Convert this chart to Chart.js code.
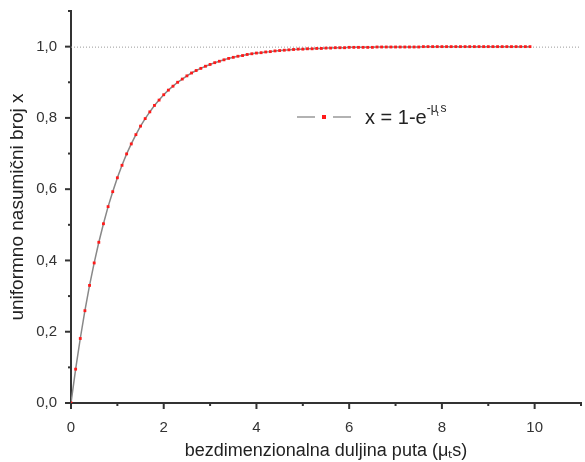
<!DOCTYPE html>
<html>
<head>
  <meta charset="utf-8">
  <script src="https://cdn.jsdelivr.net/npm/chart.js"></script>
  <style>
    html, body { margin: 0; padding: 0; background: #fff; }
    #wrap { width: 585px; height: 462px; }
  </style>
</head>
<body>
  <div id="wrap"><canvas id="chart"></canvas></div>
  <script>
    // path length (mu_t s) and random number x
    const xValues = [
      0.0, 0.1, 0.2, 0.3, 0.4, 0.5, 0.6, 0.7, 0.8, 0.9,
      1.0, 1.1, 1.2, 1.3, 1.4, 1.5, 1.6, 1.7, 1.8, 1.9,
      2.0, 2.1, 2.2, 2.3, 2.4, 2.5, 2.6, 2.7, 2.8, 2.9,
      3.0, 3.1, 3.2, 3.3, 3.4, 3.5, 3.6, 3.7, 3.8, 3.9,
      4.0, 4.1, 4.2, 4.3, 4.4, 4.5, 4.6, 4.7, 4.8, 4.9,
      5.0, 5.1, 5.2, 5.3, 5.4, 5.5, 5.6, 5.7, 5.8, 5.9,
      6.0, 6.1, 6.2, 6.3, 6.4, 6.5, 6.6, 6.7, 6.8, 6.9,
      7.0, 7.1, 7.2, 7.3, 7.4, 7.5, 7.6, 7.7, 7.8, 7.9,
      8.0, 8.1, 8.2, 8.3, 8.4, 8.5, 8.6, 8.7, 8.8, 8.9,
      9.0, 9.1, 9.2, 9.3, 9.4, 9.5, 9.6, 9.7, 9.8, 9.9
    ];
    const yValues = [
      0.000, 0.095, 0.181, 0.259, 0.330, 0.393, 0.451, 0.503, 0.551, 0.593,
      0.632, 0.667, 0.699, 0.727, 0.753, 0.777, 0.798, 0.817, 0.835, 0.850,
      0.865, 0.878, 0.889, 0.900, 0.909, 0.918, 0.926, 0.933, 0.939, 0.945,
      0.950, 0.955, 0.959, 0.963, 0.967, 0.970, 0.973, 0.975, 0.978, 0.980,
      0.982, 0.983, 0.985, 0.986, 0.988, 0.989, 0.990, 0.991, 0.992, 0.993,
      0.993, 0.994, 0.994, 0.995, 0.995, 0.996, 0.996, 0.997, 0.997, 0.997,
      0.998, 0.998, 0.998, 0.998, 0.998, 0.998, 0.999, 0.999, 0.999, 0.999,
      0.999, 0.999, 0.999, 0.999, 0.999, 0.999, 1.000, 1.000, 1.000, 1.000,
      1.000, 1.000, 1.000, 1.000, 1.000, 1.000, 1.000, 1.000, 1.000, 1.000,
      1.000, 1.000, 1.000, 1.000, 1.000, 1.000, 1.000, 1.000, 1.000, 1.000
    ];
    const xMajor = [0, 2, 4, 6, 8, 10];
    const yMajor = [0, 0.2, 0.4, 0.6, 0.8, 1.0];
    const refLine = 1.0;

    const axisColor = '#333';
    const font = 'Liberation Sans, Arial, sans-serif';

    function isMajor(list, v) {
      return list.some(m => Math.abs(m - v) < 1e-6);
    }

    // tick marks (major + minor), dotted line at 1,0 and the legend
    const extras = {
      id: 'extras',
      beforeDatasetsDraw(chart) {
        const ctx = chart.ctx;
        const a = chart.chartArea;
        const y = chart.scales.y.getPixelForValue(refLine);
        ctx.save();
        ctx.strokeStyle = '#999';
        ctx.lineWidth = 1;
        ctx.setLineDash([1, 2]);
        ctx.beginPath();
        ctx.moveTo(a.left, y + 0.5);
        ctx.lineTo(a.right, y + 0.5);
        ctx.stroke();
        ctx.restore();
      },
      afterDraw(chart) {
        const ctx = chart.ctx;
        const xs = chart.scales.x, ys = chart.scales.y;
        const a = chart.chartArea;
        ctx.save();
        ctx.strokeStyle = axisColor;
        ctx.lineWidth = 2;
        xs.ticks.forEach(t => {
          const px = xs.getPixelForValue(t.value);
          const len = isMajor(xMajor, t.value) ? 6 : 3;
          ctx.beginPath();
          ctx.moveTo(px, a.bottom);
          ctx.lineTo(px, a.bottom + len);
          ctx.stroke();
        });
        ys.ticks.forEach(t => {
          const py = ys.getPixelForValue(t.value);
          const len = isMajor(yMajor, t.value) ? 6 : 3;
          ctx.beginPath();
          ctx.moveTo(a.left, py);
          ctx.lineTo(a.left - len, py);
          ctx.stroke();
        });

        // legend
        const lx = 297, ly = 117;
        ctx.strokeStyle = '#999';
        ctx.lineWidth = 1.5;
        ctx.beginPath();
        ctx.moveTo(lx, ly); ctx.lineTo(lx + 18, ly);
        ctx.moveTo(lx + 36, ly); ctx.lineTo(lx + 54, ly);
        ctx.stroke();
        ctx.fillStyle = '#ff1a1a';
        ctx.fillRect(lx + 25, ly - 2, 4, 4);

        ctx.fillStyle = '#222';
        ctx.textBaseline = 'alphabetic';
        ctx.font = '20px ' + font;
        const main = 'x = 1-e';
        ctx.fillText(main, 365, 124);
        const w = ctx.measureText(main).width;
        ctx.font = '12px ' + font;
        ctx.fillText('-\u03bc', 365 + w, 112);
        const w2 = ctx.measureText('-\u03bc').width;
        ctx.font = '8px ' + font;
        ctx.fillText('t', 365 + w + w2 - 1, 116);
        ctx.font = '12px ' + font;
        ctx.fillText('s', 365 + w + w2 + 3, 112);
        ctx.restore();
      }
    };

    const points = xValues.map((x, i) => ({ x: x, y: yValues[i] }));

    new Chart(document.getElementById('chart'), {
      type: 'scatter',
      data: {
        datasets: [{
          label: 'x = 1-e^(-μt s)',
          data: points,
          showLine: true,
          borderColor: '#888',
          borderWidth: 1.5,
          pointStyle: 'rect',
          pointRadius: 2,
          pointBackgroundColor: '#ff1a1a',
          pointBorderWidth: 0
        }]
      },
      options: {
        responsive: true,
        maintainAspectRatio: false,
        animation: false,
        layout: { padding: { top: 11, right: -2, left: 0, bottom: 0 } },
        plugins: {
          legend: { display: false },
          tooltip: { enabled: false }
        },
        scales: {
          x: {
            type: 'linear',
            min: 0,
            max: 11,
            afterFit: s => { s.height = 59; s.paddingLeft = 0; s.paddingRight = 0; },
            grid: { display: false },
            border: { display: true, color: axisColor, width: 2 },
            ticks: {
              stepSize: 1,
              autoSkip: false,
              maxRotation: 0,
              padding: 8,
              color: axisColor,
              font: { family: font, size: 15 },
              callback: v => isMajor(xMajor, v) ? String(v) : ''
            },
            title: {
              display: true,
              text: 'bezdimenzionalna duljina puta (\u03bc\u209cs)',
              color: '#222',
              font: { family: font, size: 18 },
              padding: { top: 2, bottom: 0 }
            }
          },
          y: {
            min: 0,
            max: 1.1,
            afterFit: s => { s.width = 71; s.paddingTop = 0; s.paddingBottom = 0; },
            grid: { display: false },
            border: { display: true, color: axisColor, width: 2 },
            ticks: {
              stepSize: 0.1,
              autoSkip: false,
              padding: 6,
              color: axisColor,
              font: { family: font, size: 15 },
              callback: v => isMajor(yMajor, v) ? v.toFixed(1).replace('.', ',') : ''
            },
            title: {
              display: true,
              text: 'uniformno nasumični broj x',
              color: '#222',
              font: { family: font, size: 19 },
              padding: { top: 6, bottom: 2 }
            }
          }
        }
      },
      plugins: [extras]
    });
  </script>
</body>
</html>
